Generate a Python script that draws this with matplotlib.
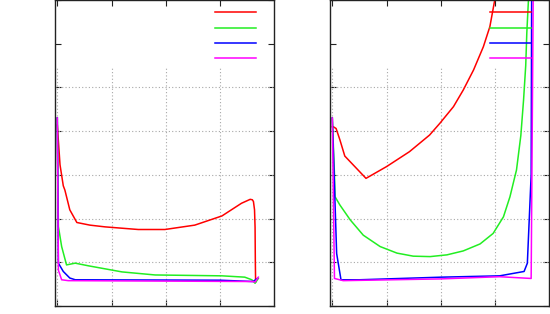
import numpy as np
import matplotlib
matplotlib.use("Agg")
import matplotlib.pyplot as plt
from matplotlib.lines import Line2D

# left panel curves
red_l_x = [0, 0.05, 0.11, 0.14, 0.23, 0.36, 0.6, 0.88, 1.49, 1.98, 2.53, 3.03, 3.39, 3.55, 3.59, 3.61, 3.63, 3.64, 3.645, 3.65]
red_l_y = [4.14, 3.23, 2.75, 2.65, 2.2, 1.91, 1.85, 1.81, 1.75, 1.75, 1.85, 2.06, 2.35, 2.44, 2.43, 2.39, 2.2, 1.8, 1.0, 0.55]
green_l_x = [0, 0.02, 0.08, 0.17, 0.33, 0.57, 1.19, 1.80, 3.03, 3.45, 3.58, 3.64, 3.70]
green_l_y = [4.3, 1.82, 1.36, 0.94, 0.98, 0.92, 0.78, 0.71, 0.69, 0.66, 0.6, 0.52, 0.63]
blue_l_x = [0, 0.02, 0.11, 0.23, 0.33, 3.0, 3.6, 3.65, 3.68]
blue_l_y = [4.3, 0.98, 0.79, 0.64, 0.6, 0.59, 0.56, 0.6, 0.63]
mag_l_x = [0, 0.02, 0.08, 0.2, 3.6, 3.64, 3.70]
mag_l_y = [4.3, 0.82, 0.6, 0.58, 0.56, 0.55, 0.66]

# right panel curves
red_r_x = [0, 0.02, 0.07, 0.14, 0.23, 0.62, 1.0, 1.42, 1.79, 1.98, 2.23, 2.41, 2.6, 2.78, 2.90, 2.99, 3.05]
red_r_y = [4.1, 4.1, 4.06, 3.80, 3.43, 2.92, 3.19, 3.53, 3.91, 4.18, 4.56, 4.94, 5.40, 5.93, 6.39, 7.0, 7.4]
green_r_x = [0, 0.04, 0.05, 0.14, 0.33, 0.57, 0.88, 1.19, 1.49, 1.80, 2.11, 2.41, 2.72, 2.96, 3.15, 3.27, 3.36,
             3.39, 3.47, 3.52, 3.56, 3.58, 3.61, 3.63]
green_r_y = [4.3, 3.0, 2.5, 2.31, 1.97, 1.62, 1.36, 1.21, 1.14, 1.13, 1.17, 1.26, 1.42, 1.66, 2.04, 2.5, 2.96,
             3.11, 3.9, 4.71, 5.5, 6.25, 7.0, 7.5]
blue_r_x = [0, 0.08, 0.16, 0.5, 2.01, 3.08, 3.53, 3.59, 3.66, 3.67]
blue_r_y = [4.3, 1.2, 0.6, 0.6, 0.66, 0.69, 0.79, 0.98, 3.0, 7.5]
mag_r_x = [0, 0.04, 0.2, 2.0, 3.08, 3.66, 3.70]
mag_r_y = [4.3, 0.63, 0.58, 0.62, 0.67, 0.63, 7.5]

colors = ['#ff0000', '#22ee22', '#0000ff', '#ff00ff']
panels = [
    [(red_l_x, red_l_y), (green_l_x, green_l_y), (blue_l_x, blue_l_y), (mag_l_x, mag_l_y)],
    [(red_r_x, red_r_y), (green_r_x, green_r_y), (blue_r_x, blue_r_y), (mag_r_x, mag_r_y)],
]

fig = plt.figure(figsize=(5.5, 3.14), dpi=100)
lefts = [55 / 550, 330 / 550]
x0 = -2.3 / 54.33
x1 = 3 + 53.7 / 54.33

for left, curves in zip(lefts, panels):
    ax = fig.add_axes([left, 8 / 314, 219 / 550, 306 / 314])
    ax.set_xlim(x0, x1)
    ax.set_ylim(0, 7)

    # gnuplot style grid, hidden behind the key area at the top
    ax.vlines([0, 1, 2, 3], 0, 5.5, colors='#a8a8a8', linestyles=(0, (1, 2)), lw=0.8)
    ax.hlines([1, 2, 3, 4, 5], x0, x1, colors='#a8a8a8', linestyles=(0, (1, 2)), lw=0.8)

    for (xs, ys), c in zip(curves, colors):
        ax.plot(xs, ys, color=c, lw=1.1, solid_joinstyle='round')

    # key samples (labels are empty in the original)
    for i, c in enumerate(colors):
        yk = 1 - (12.3 + 15.3 * i) / 306
        ax.add_line(Line2D([0.732, 0.92], [yk, yk], transform=ax.transAxes, color=c, lw=1.1))

    ax.set_xticks([0, 1, 2, 3])
    ax.set_yticks(range(8))
    ax.set_xticklabels([])
    ax.set_yticklabels([])
    ax.tick_params(direction='in', length=4, width=0.8, color='#222222',
                   top=True, right=True)
    for sp in ax.spines.values():
        sp.set_color('#222222')
        sp.set_linewidth(1.0)

fig.savefig('out.png', dpi=100)
